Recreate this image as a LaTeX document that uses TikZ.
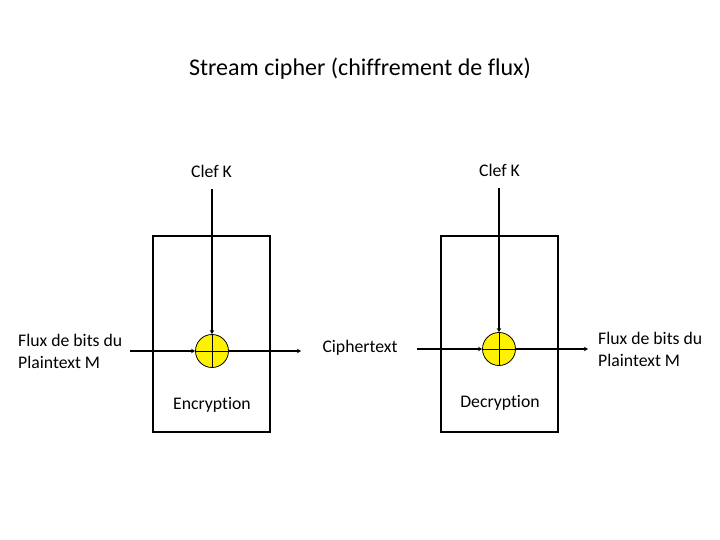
\documentclass[tikz,border=0pt]{standalone}
\usepackage{fontspec}
\setmainfont{Carlito}[Ligatures=NoCommon]
\usetikzlibrary{arrows.meta}
\tikzset{
  lbl/.style={font=\fontsize{17.7}{22}\selectfont, inner sep=0pt, align=left},
  boxline/.style={draw=black, line width=1.3pt},
  flow/.style={line width=2.3pt, -{Stealth[length=4pt,width=4.5pt]}},
  xorc/.style={circle, draw=black, line width=0.8pt, fill=yellow, minimum size=33pt, inner sep=0pt,
    path picture={\draw[line width=0.8pt] (path picture bounding box.north) -- (path picture bounding box.south)
      (path picture bounding box.west) -- (path picture bounding box.east);}}
}
\begin{document}
\begin{tikzpicture}[x=1pt,y=-1pt]
\useasboundingbox (0,0) rectangle (720,540);
\node[font=\fontsize{24}{28}\selectfont, inner sep=0pt] (title) at (360,69) {Stream cipher (chiffrement de flux)};
% boxes
\draw[boxline] (153,236) rectangle (270,432);
\draw[boxline] (441,236) rectangle (558,432);
% xor nodes
\node[xorc] (e1) at (212,351) {};
\node[xorc] (d1) at (499,349) {};
% labels
\node[lbl, anchor=west] (k1) at (191,171) {Clef K};
\node[lbl, anchor=west] (k2) at (479,170) {Clef K};
\node[lbl, anchor=west] (pin) at (18,351) {Flux de bits du\\Plaintext M};
\node[lbl, anchor=west] (pout) at (598,349) {Flux de bits du\\Plaintext M};
\node[lbl] (ct) at (360,348) {Ciphertext};
\node[lbl] (enc) at (212,405) {Encryption};
\node[lbl] (dec) at (500,403) {Decryption};
% coordinates
\coordinate (ktop1) at (212,189);
\coordinate (ktop2) at (499,188);
\coordinate (in1) at (130,351);
\coordinate (out1) at (301,351);
\coordinate (in2) at (417,349);
\coordinate (out2) at (588,349);
% connectors
\draw[flow] (ktop1) -- (e1.north);
\draw[flow] (in1) -- (e1.west);
\draw[flow] (e1.east) -- (out1);
\draw[flow] (ktop2) -- (d1.north);
\draw[flow] (in2) -- (d1.west);
\draw[flow] (d1.east) -- (out2);
\end{tikzpicture}
\end{document}
